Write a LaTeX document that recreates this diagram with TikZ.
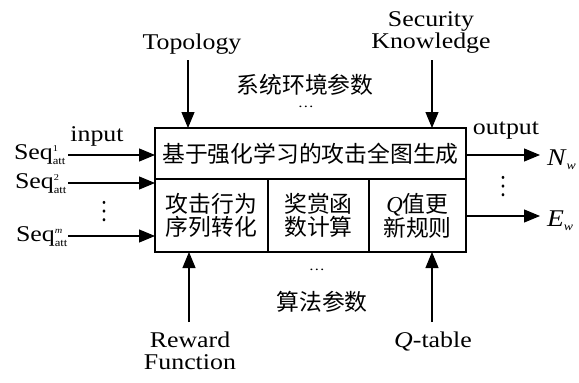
\documentclass[tikz,border=0pt]{standalone}
\usepackage{fontspec}
\setmainfont{Liberation Serif}[FakeStretch=1.15]
\newfontfamily\cjk{Noto Sans CJK SC}
\usetikzlibrary{arrows.meta}

\newcommand{\seqlab}[1]{Seq$^{\hbox{\fontsize{9}{9}\selectfont #1}}_{\hbox{\fontsize{11}{11}\selectfont att}}$}
\newcommand{\outlab}[2]{\textit{#1}$_{\hbox{\fontsize{12}{12}\selectfont\itshape #2}}$}

\begin{document}
\begin{tikzpicture}[x=1pt,y=-1pt,
  every node/.style={inner sep=0pt, outer sep=0pt},
  lat/.style={font=\fontsize{22.5}{22}\selectfont},
  zh/.style={font=\fontsize{22.8}{22.5}\selectfont\cjk},
  cell/.style={draw, line width=1.3pt, anchor=center, align=center, zh},
  arr/.style={line width=1.1pt, -{Triangle[length=16pt,width=13pt]}},
  frame/.style={line width=2pt}
]
\useasboundingbox (0,0) rectangle (579,383);

% system block: one top row and three bottom cells
\node[cell, minimum width=311pt, minimum height=51pt] (gen) at (310.5,153.5)
  {基于强化学习的攻击全图生成};
\node[cell, minimum width=113pt, minimum height=73pt] (c1) at (211.5,215.5)
  {攻击行为\\序列转化};
\node[cell, minimum width=101pt, minimum height=73pt] (c2) at (318.5,215.5)
  {奖赏函\\数计算};
\node[cell, minimum width=97pt, minimum height=73pt] (c3) at (417.5,215.5)
  {{\fontspec{Liberation Serif}\itshape Q}值更\\新规则};
\draw[frame] (gen.north west) rectangle (c3.south east);

% inputs
\coordinate (s1) at (68,155);
\coordinate (s2) at (68,183);
\coordinate (s3) at (68,236);
\node[lat, anchor=base east] (l1) at (66,159) {\seqlab{1}};
\node[lat, anchor=base east] (l2) at (67,188) {\seqlab{2}};
\node[lat, anchor=base east] (l3) at (68,241) {\seqlab{\itshape m}};
\node[lat] (in) at (97,136) {input};
\node[lat, rotate=90] (vd1) at (104,212) {…};
\draw[arr] (s1) -- (s1 -| gen.west);
\draw[arr] (s2) -- (s2 -| c1.west);
\draw[arr] (s3) -- (s3 -| c1.west);

% outputs
\coordinate (n1) at (540,155);
\coordinate (e1) at (540,216);
\draw[arr] (gen.east |- n1) -- (n1);
\draw[arr] (c3.east |- e1) -- (e1);
\node[lat] (out) at (506,131) {output};
\node[font=\fontsize{24}{24}\selectfont, anchor=west] (nw) at (547,160) {\outlab{N}{w}};
\node[font=\fontsize{24}{24}\selectfont, anchor=west] (ew) at (547,221) {\outlab{E}{w}};
\node[lat, rotate=90] (vd2) at (503,187) {…};

% environment parameters
\node[lat] (topo) at (192,44) {Topology};
\node[lat, align=center] (sec) at (431,32) {Security\\Knowledge};
\coordinate (t1) at (188,60);
\coordinate (k1) at (432,60);
\draw[arr] (t1) -- (t1 |- gen.north);
\draw[arr] (k1) -- (k1 |- gen.north);
\node[zh] (env) at (305,85) {系统环境参数};
\node[font=\fontsize{14}{14}\selectfont] (envdots) at (306,107) {…};

% algorithm parameters
\coordinate (r1) at (189,322);
\coordinate (q1) at (432,322);
\draw[arr] (r1) -- (r1 |- c1.south);
\draw[arr] (q1) -- (q1 |- c3.south);
\node[font=\fontsize{14}{14}\selectfont] (algdots) at (317,270) {…};
\node[zh] (alg) at (322,302) {算法参数};
\node[lat, align=center] (rew) at (190,351) {Reward\\Function};
\node[lat] (qt) at (433,342) {\textit{Q}-table};
\end{tikzpicture}
\end{document}
